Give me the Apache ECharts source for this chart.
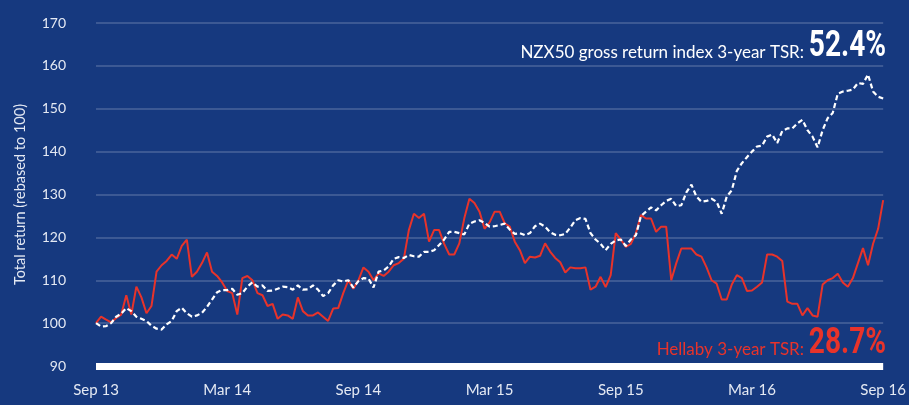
<!DOCTYPE html>
<html>
<head>
<meta charset="utf-8">
<script src="https://cdn.jsdelivr.net/npm/echarts@6/dist/echarts.min.js"></script>
<style>
  html, body { margin: 0; padding: 0; background: #16397f; }
  #chart { width: 909px; height: 405px; }
</style>
</head>
<body>
<div id="chart"></div>
<script>
// weekly points, Sep 2013 -> Sep 2016, rebased to 100
const xTickLabels = ['Sep 13', 'Mar 14', 'Sep 14', 'Mar 15', 'Sep 15', 'Mar 16', 'Sep 16'];
const weeksPerTick = 26;

const nzx50 = [
  100, 99.2, 99.3, 100, 101.5, 102.2, 103.5, 102.8, 101.5, 101,
  100.5, 99.4, 98.7, 98.5, 99.7, 100.5, 102.8, 103.6, 102.3, 101.5,
  101.8, 102.4, 103.8, 105.5, 107.2, 107.7, 107.7, 108, 106.6, 107,
  108.5, 109.5, 108.5, 108.8, 107.5, 107.6, 108, 108.5, 108.4, 107.8,
  108.8, 107.8, 107.9, 108.8, 107.8, 106.3, 107, 108.8, 110, 109.7,
  110, 108.3, 109.8, 110.5, 110.4, 108.3, 112, 112.3, 113.2, 115,
  115.4, 115.2, 115.9, 115.6, 115.5, 116.6, 116.6, 117, 118.2, 119.5,
  121.3, 121.3, 121, 120.7, 123.2, 123.7, 124, 123.4, 122.5, 122.6,
  122.9, 123.2, 121.8, 120.8, 121, 120.5, 121, 122.6, 123.2, 122.5,
  121.2, 120.6, 120.5, 120.8, 122.3, 124, 124.5, 124.3, 121, 119.5,
  118.5, 117, 118.5, 119.3, 119.5, 118, 119.5, 120.5, 125, 126,
  127, 126.3, 127.5, 128.5, 129, 127.3, 127.5, 130.5, 132.3, 129.5,
  128.3, 128.5, 129, 128.3, 125.5, 129.5, 131, 135.5, 137.3, 138.7,
  140, 141.2, 141.4, 143.5, 144, 142, 144.8, 145.4, 145.4, 146.6,
  147.4, 145, 143.5, 141, 145, 147.8, 149, 153.5, 154, 154.2,
  154.5, 156, 155.8, 158, 154, 152.8, 152.4
];

const hellaby = [
  100, 101.5, 100.8, 100.2, 101.2, 102, 106.5, 102, 108.5, 106,
  102.3, 104, 112, 113.5, 114.5, 116, 115, 118, 119.5, 110.8,
  112, 114, 116.5, 112, 111, 109.5, 107.5, 107, 102, 110.5,
  111, 110, 107, 106.5, 104, 104.5, 101, 102, 101.8, 101,
  106, 102.8, 101.8, 101.8, 102.5, 101.5, 100.5, 103.4, 103.5, 107,
  110, 108, 110, 113, 112, 110, 111.6, 111, 112, 113.5,
  114, 115, 121.7, 125.5, 124.5, 125.5, 119, 121.7, 121.7, 118.5,
  116, 116, 118.6, 124.5, 129, 128, 126, 122, 123.5, 126,
  126, 123.3, 122.5, 119, 117, 114, 115.5, 115.3, 115.7, 118.6,
  116.7, 115.2, 114.2, 111.8, 113, 112.8, 112.8, 113, 107.8, 108.5,
  110.8, 108.4, 111.2, 121, 119.5, 117.8, 118.5, 121, 125.2, 124.4,
  124.4, 121.3, 122.5, 122.5, 110, 114, 117.4, 117.4, 117.4, 116,
  115.5, 113, 110, 109.2, 105.5, 105.5, 109, 111.2, 110.5, 107.5,
  107.6, 108.5, 109.5, 116, 116, 115.5, 114.5, 105, 104.5, 104.5,
  101.8, 103.5, 101.8, 101.5, 109, 110, 110.5, 111.5, 109.5, 108.5,
  110.5, 114, 117.5, 113.5, 118.5, 122, 128.7
];

const nzxTsr = '52.4%';
const hellabyTsr = '28.7%';

const bodyFont = 'Lato, "Open Sans", sans-serif';
const bigFont = 'Roboto, "DejaVu Sans", sans-serif';
const textColor = '#e4e9f3';
const red = '#e8332a';

const toPairs = arr => arr.map((v, i) => [i, v]);

// label + big condensed number, both right-aligned and sharing a baseline
function tsrLabel(label, value, color, baseline) {
  return [
    {
      type: 'text',
      x: 804,
      y: baseline - 5,
      style: {
        text: label, fill: color, font: '17px ' + bodyFont,
        align: 'right', verticalAlign: 'middle'
      }
    },
    {
      type: 'text',
      x: 886,
      y: baseline - 11,
      scaleX: 0.78,
      style: {
        text: value, fill: color, font: 'bold 36px ' + bigFont,
        align: 'right', verticalAlign: 'middle'
      }
    }
  ];
}

const chart = echarts.init(document.getElementById('chart'));
chart.setOption({
  backgroundColor: '#16397f',
  animation: false,
  grid: { left: 96, right: 21, top: 23, bottom: 39 },
  xAxis: {
    type: 'value',
    min: 0,
    max: (xTickLabels.length - 1) * weeksPerTick,
    interval: weeksPerTick,
    axisLine: { show: true, onZero: false, lineStyle: { color: '#ffffff', width: 7, cap: 'butt' } },
    axisTick: { show: false },
    splitLine: { show: false },
    axisLabel: {
      color: textColor,
      fontFamily: bodyFont,
      fontSize: 15,
      margin: 17,
      formatter: v => xTickLabels[Math.round(v / weeksPerTick)]
    }
  },
  yAxis: {
    type: 'value',
    min: 90,
    max: 170,
    interval: 10,
    name: 'Total return (rebased to 100)',
    nameLocation: 'middle',
    nameGap: 68,
    nameTextStyle: { color: textColor, fontFamily: bodyFont, fontSize: 14.5 },
    axisLine: { show: false },
    axisTick: { show: false },
    axisLabel: { color: textColor, fontFamily: bodyFont, fontSize: 14, margin: 30 },
    splitLine: { lineStyle: { color: 'rgba(255,255,255,0.22)', width: 1.5 } }
  },
  series: [
    {
      name: 'NZX50 gross return index',
      type: 'line',
      data: toPairs(nzx50),
      symbol: 'none',
      z: 3,
      lineStyle: { color: '#ffffff', width: 2.2, type: [5, 3] }
    },
    {
      name: 'Hellaby',
      type: 'line',
      data: toPairs(hellaby),
      symbol: 'none',
      z: 2,
      lineStyle: { color: red, width: 2 }
    }
  ],
  graphic: [
    ...tsrLabel('NZX50 gross return index 3-year TSR:', nzxTsr, '#ffffff', 58),
    ...tsrLabel('Hellaby 3-year TSR:', hellabyTsr, red, 355)
  ]
});
</script>
</body>
</html>
